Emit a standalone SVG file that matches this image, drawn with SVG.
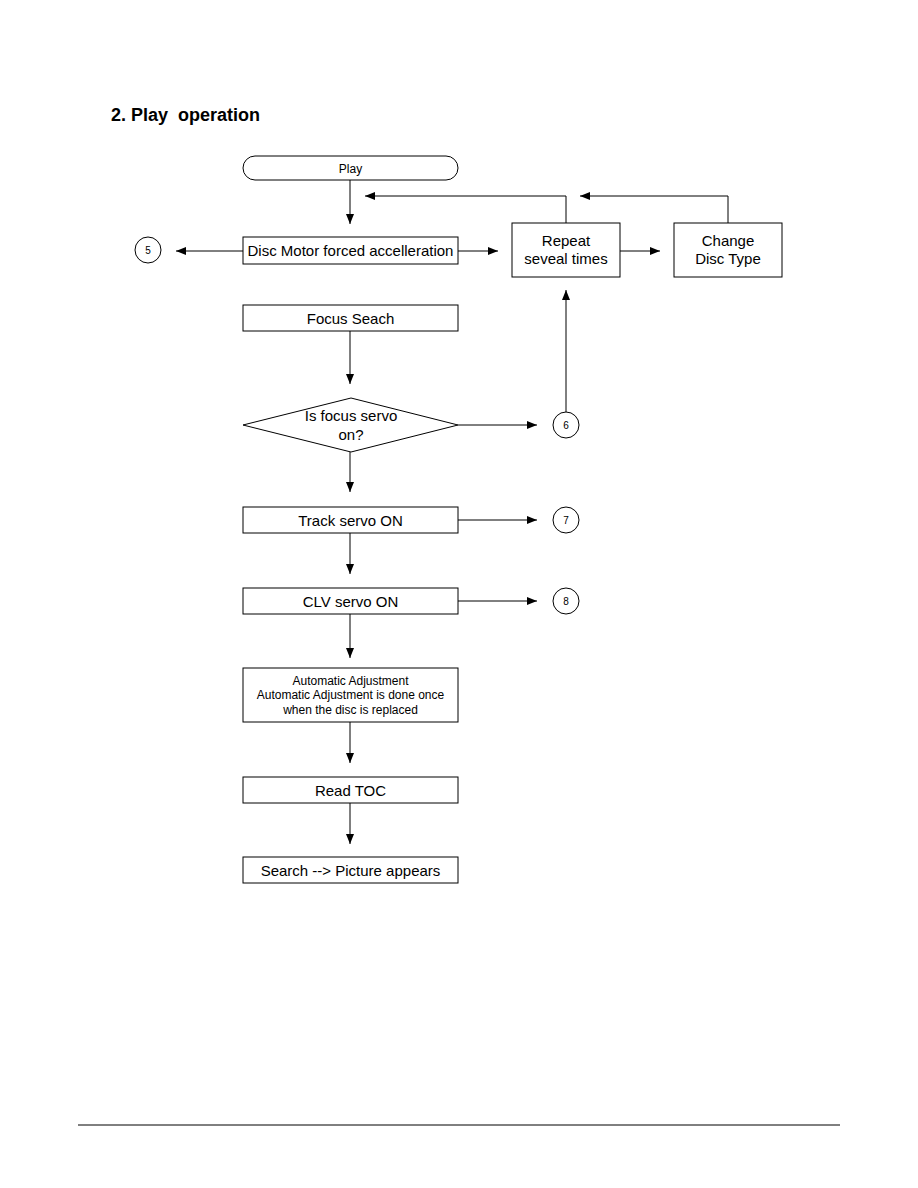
<svg xmlns="http://www.w3.org/2000/svg" width="918" height="1188" viewBox="0 0 918 1188">
<defs>
<marker id="ah" markerWidth="10" markerHeight="8" refX="10" refY="4" orient="auto" markerUnits="userSpaceOnUse">
<path d="M0,0 L10,4 L0,8 z" fill="#000"/>
</marker>
</defs>
<style>
.b{fill:#fff;stroke:#000;stroke-width:1}
.t{font-family:"Liberation Sans",Arial,sans-serif;font-size:15px;text-anchor:middle;fill:#000}
.s{font-family:"Liberation Sans",Arial,sans-serif;font-size:12px;text-anchor:middle;fill:#000}
.c{font-family:"Liberation Sans",Arial,sans-serif;font-size:10px;text-anchor:middle;fill:#000}
.l{fill:none;stroke:#000;stroke-width:1}
.a{fill:none;stroke:#000;stroke-width:1;marker-end:url(#ah)}
</style>
<rect width="918" height="1188" fill="#fff"/>
<text x="111" y="121" font-family="Liberation Sans,Arial,sans-serif" font-size="18" font-weight="bold" xml:space="preserve">2. Play  operation</text>
<g id="connectors">
<path class="a" d="M350,180 V224"/>
<path class="a" d="M243,251 H176"/>
<path class="a" d="M458,251 H498"/>
<path class="a" d="M620,251 H660"/>
<path class="a" d="M566,223 V196 H365"/>
<path class="a" d="M728,223 V196 H580"/>
<path class="a" d="M350,331 V384"/>
<path class="a" d="M458,425 H537"/>
<path class="a" d="M566,412 V290"/>
<path class="a" d="M350,452 V492"/>
<path class="a" d="M458,520 H537"/>
<path class="a" d="M350,533 V574"/>
<path class="a" d="M458,601 H537"/>
<path class="a" d="M350,614 V658"/>
<path class="a" d="M350,722 V763"/>
<path class="a" d="M350,803 V844"/>
</g>
<g id="play"><rect class="b" x="243" y="156" width="215" height="24" rx="12" ry="12"/><text class="s" x="350.5" y="172.5" font-size="13">Play</text></g>
<g id="motor"><rect class="b" x="243" y="237" width="215" height="27"/><text class="t" x="350.5" y="255.5">Disc Motor forced accelleration</text></g>
<g id="c5"><circle class="b" cx="148" cy="250" r="13"/><text class="c" x="148" y="254">5</text></g>
<g id="repeat"><rect class="b" x="512" y="223" width="108" height="54"/><text class="t" x="566" y="246">Repeat</text><text class="t" x="566" y="264">seveal times</text></g>
<g id="change"><rect class="b" x="674" y="223" width="108" height="54"/><text class="t" x="728" y="246">Change</text><text class="t" x="728" y="264">Disc Type</text></g>
<g id="focus"><rect class="b" x="243" y="305" width="215" height="26"/><text class="t" x="350.5" y="323.5">Focus Seach</text></g>
<g id="decision"><polygon class="b" points="243,425 351,398 458,425 351,452"/><text class="t" x="351" y="421">Is focus servo</text><text class="t" x="351" y="440">on?</text></g>
<g id="c6"><circle class="b" cx="566" cy="425" r="13"/><text class="c" x="566" y="429">6</text></g>
<g id="track"><rect class="b" x="243" y="507" width="215" height="26"/><text class="t" x="350.5" y="525.5">Track servo ON</text></g>
<g id="c7"><circle class="b" cx="566" cy="520" r="13"/><text class="c" x="566" y="524">7</text></g>
<g id="clv"><rect class="b" x="243" y="588" width="215" height="26"/><text class="t" x="350.5" y="606.5">CLV servo ON</text></g>
<g id="c8"><circle class="b" cx="566" cy="601" r="13"/><text class="c" x="566" y="605">8</text></g>
<g id="auto"><rect class="b" x="243" y="668" width="215" height="54"/><text class="s" x="350.5" y="685">Automatic Adjustment</text><text class="s" x="350.5" y="699">Automatic Adjustment is done once</text><text class="s" x="350.5" y="714">when the disc is replaced</text></g>
<g id="toc"><rect class="b" x="243" y="777" width="215" height="26"/><text class="t" x="350.5" y="795.5">Read TOC</text></g>
<g id="search"><rect class="b" x="243" y="857" width="215" height="26"/><text class="t" x="350.5" y="875.5">Search --&gt; Picture appears</text></g>
<line class="l" x1="78" y1="1125" x2="840" y2="1125"/>
</svg>
